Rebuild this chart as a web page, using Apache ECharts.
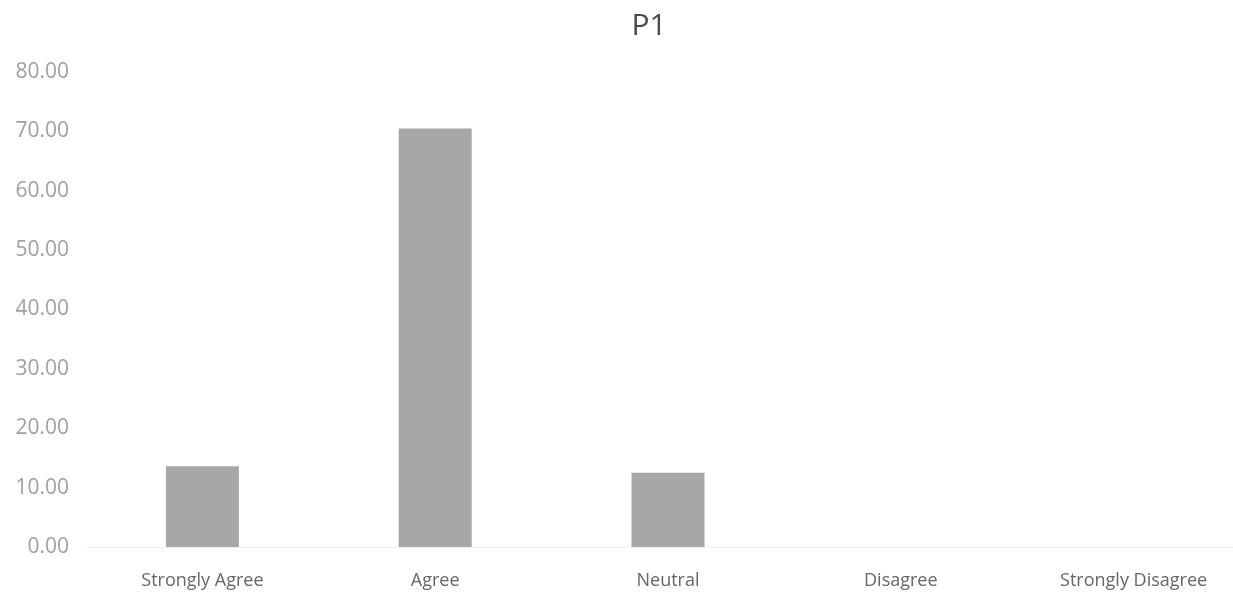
<!DOCTYPE html>
<html>
<head>
<meta charset="utf-8">
<script src="https://cdn.jsdelivr.net/npm/echarts@6/dist/echarts.min.js"></script>
<style>
html,body{margin:0;padding:0;background:#fff;}
#chart{width:1233px;height:609px;}
</style>
</head>
<body>
<div id="chart"></div>
<script>
const categories = ['Strongly Agree', 'Agree', 'Neutral', 'Disagree', 'Strongly Disagree'];
const values = [13.6, 70.5, 12.5, 0, 0];
const yTicks = { min: 0, max: 80, interval: 10 };

const chart = echarts.init(document.getElementById('chart'));
chart.setOption({
  backgroundColor: '#ffffff',
  animation: false,
  title: {
    text: 'P1',
    left: 644,
    top: 6,
    textAlign: 'center',
    textStyle: { fontFamily: 'Open Sans', fontSize: 30, fontWeight: 'normal', color: '#4a4a4a' }
  },
  grid: { left: 86, width: 1164, top: 72, bottom: 62, outerBoundsMode: 'none', containLabel: false },
  xAxis: {
    type: 'category',
    data: categories,
    axisLine: { show: true, lineStyle: { color: '#f2f2f2' } },
    axisTick: { show: false },
    axisLabel: { fontFamily: 'Open Sans', fontSize: 18, color: '#666', margin: 25, hideOverlap: false }
  },
  yAxis: {
    type: 'value',
    min: yTicks.min,
    max: yTicks.max,
    interval: yTicks.interval,
    axisLine: { show: false },
    axisTick: { show: false },
    splitLine: { show: false },
    axisLabel: {
      fontFamily: 'Open Sans', fontSize: 21, color: '#a0a0a0', margin: 17,
      formatter: v => v.toFixed(2)
    }
  },
  series: [{
    type: 'bar',
    data: values,
    barWidth: 73,
    itemStyle: { color: '#a7a7a7' }
  }]
});
</script>
</body>
</html>
